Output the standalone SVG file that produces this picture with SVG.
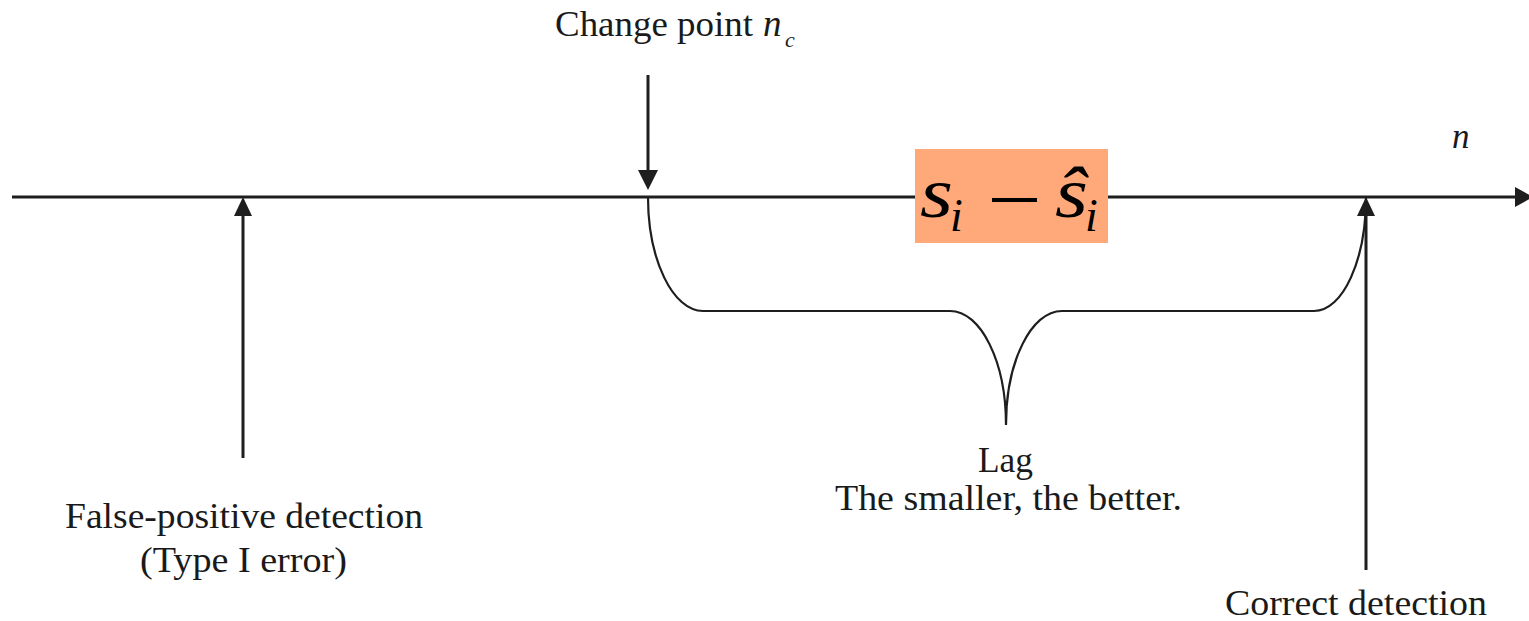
<svg xmlns="http://www.w3.org/2000/svg" width="1529" height="621" viewBox="0 0 1529 621">
  <style>
    .lbl { font-family: 'Liberation Serif', 'Times New Roman', serif; font-size: 35px; fill: #1a1a1a; }
    .it { font-family: 'Liberation Serif', 'Times New Roman', serif; font-style: italic; fill: #1a1a1a; }
    .math { font-family: 'Liberation Serif', 'Times New Roman', serif; font-style: italic; fill: #000; }
    .ln { stroke: #1e1e1e; stroke-width: 3; fill: none; }
    .brace { stroke: #1e1e1e; stroke-width: 2.2; fill: none; }
    .head { fill: #1e1e1e; }
  </style>
  <rect width="1529" height="621" fill="#ffffff"/>

  <g id="connectors">
    <line class="ln" x1="12" y1="197" x2="1520" y2="197"/>
    <polygon class="head" points="1515,187 1533,197 1515,207"/>
    <line class="ln" x1="648" y1="75" x2="648" y2="175"/>
    <polygon class="head" points="638,170 658,170 648,190"/>
    <line class="ln" x1="243" y1="458" x2="243" y2="212"/>
    <polygon class="head" points="234,216 252,216 243,197"/>
    <line class="ln" x1="1366" y1="570" x2="1366" y2="212"/>
    <polygon class="head" points="1357,216 1375,216 1366,197"/>
    <path class="brace" d="M648,197 C648,260 673,311 703,311 L950,311 C981,311 1006,362 1006,425 C1006,362 1031,311 1062,311 L1314,311 C1343,311 1366,260 1366,197"/>
  </g>

  <g id="change-point">
    <text class="lbl" x="555" y="36" textLength="198" lengthAdjust="spacingAndGlyphs">Change point</text>
    <text class="it" x="763" y="36" font-size="37">n</text>
    <text class="it" x="785" y="47" font-size="22">c</text>
  </g>

  <g id="axis-label">
    <text class="it" x="1452" y="148" font-size="35">n</text>
  </g>

  <g id="difference">
    <rect x="915" y="149" width="193" height="94" fill="#ffa97a"/>
    <text class="math" x="920" y="217" font-size="72" textLength="33" lengthAdjust="spacingAndGlyphs">s</text>
    <text class="math" x="950" y="231" font-size="46">i</text>
    <rect x="992" y="198" width="45" height="4" fill="#000"/>
    <text class="math" x="1055" y="217" font-size="72" textLength="33" lengthAdjust="spacingAndGlyphs">ŝ</text>
    <text class="math" x="1085" y="231" font-size="46">i</text>
  </g>

  <g id="false-positive">
    <text class="lbl" x="65" y="528" textLength="358" lengthAdjust="spacingAndGlyphs">False-positive detection</text>
    <text class="lbl" x="140" y="572" textLength="207" lengthAdjust="spacingAndGlyphs">(Type I error)</text>
  </g>

  <g id="lag">
    <text class="lbl" x="978" y="472" textLength="55" lengthAdjust="spacingAndGlyphs">Lag</text>
    <text class="lbl" x="835" y="510" textLength="347" lengthAdjust="spacingAndGlyphs">The smaller, the better.</text>
  </g>

  <g id="correct-detection">
    <text class="lbl" x="1225" y="615" textLength="262" lengthAdjust="spacingAndGlyphs">Correct detection</text>
  </g>
</svg>
